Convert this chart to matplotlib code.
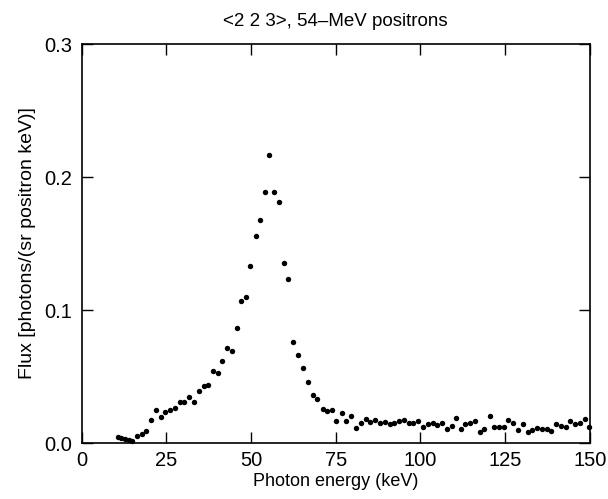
import matplotlib
matplotlib.use("Agg")
import matplotlib.pyplot as plt

plt.rcParams['font.family'] = ['Liberation Sans', 'DejaVu Sans']

energy = [10.7, 11.7, 12.8, 13.9, 14.9, 16.4, 17.7, 19.0, 20.5, 21.9,
          23.3, 24.7, 26.1, 27.4, 28.9, 30.3, 31.7, 33.1, 34.5, 36.0,
          37.4, 38.7, 40.1, 41.5, 42.9, 44.3, 45.7, 47.0, 48.4, 49.8,
          51.3, 52.7, 54.0, 55.4, 56.8, 58.2, 59.6, 61.0, 62.5, 63.9,
          65.4, 66.8, 68.2, 69.6, 71.1, 72.5, 73.9, 75.2, 76.7, 78.1,
          79.6, 80.9, 82.4, 83.8, 85.2, 86.7, 88.0, 89.4, 90.9, 92.3,
          93.7, 95.1, 96.5, 97.9, 99.3, 100.8, 102.2, 103.6, 105.0, 106.4,
          107.8, 109.2, 110.5, 112.0, 113.3, 114.7, 116.1, 117.5, 118.9, 120.4,
          121.8, 123.2, 124.6, 126.0, 127.4, 128.8, 130.3, 131.7, 133.0, 134.4,
          135.9, 137.3, 138.6, 140.1, 141.5, 142.9, 144.3, 145.7, 147.1, 148.5,
          149.9]
flux = [0.0045, 0.0038, 0.0033, 0.0026, 0.0013, 0.0055, 0.0065, 0.0090, 0.0170, 0.0248,
        0.0196, 0.0231, 0.0251, 0.0263, 0.0310, 0.0310, 0.0349, 0.0306, 0.0389, 0.0426,
        0.0439, 0.0540, 0.0530, 0.0620, 0.0717, 0.0695, 0.0862, 0.1070, 0.1100, 0.1330,
        0.1556, 0.1680, 0.1887, 0.2165, 0.1887, 0.1810, 0.1350, 0.1230, 0.0757, 0.0660,
        0.0567, 0.0462, 0.0361, 0.0331, 0.0253, 0.0243, 0.0248, 0.0163, 0.0228, 0.0163,
        0.0203, 0.0116, 0.0148, 0.0180, 0.0161, 0.0171, 0.0153, 0.0158, 0.0146, 0.0153,
        0.0165, 0.0176, 0.0150, 0.0153, 0.0165, 0.0123, 0.0146, 0.0148, 0.0138, 0.0150,
        0.0103, 0.0131, 0.0191, 0.0105, 0.0143, 0.0148, 0.0168, 0.0086, 0.0103, 0.0206,
        0.0118, 0.0118, 0.0118, 0.0171, 0.0148, 0.0100, 0.0146, 0.0086, 0.0098, 0.0113,
        0.0103, 0.0108, 0.0090, 0.0141, 0.0131, 0.0118, 0.0168, 0.0146, 0.0150, 0.0183,
        0.0120]

xticks = [0, 25, 50, 75, 100, 125, 150]
yticks = [0.0, 0.1, 0.2, 0.3]
ytick_labels = ['0.0', '0.1', '0.2', '0.3']

fig = plt.figure(figsize=(6.08, 4.99), dpi=100)
ax = fig.add_axes([0.1345, 0.1122, 0.8355, 0.7996])
ax.plot(energy, flux, 'o', color='black', markersize=3.9, markeredgewidth=0, clip_on=False)
ax.set_xlim(0, 150)
ax.set_ylim(0, 0.3)
ax.set_xticks(xticks)
ax.set_xticklabels([str(t) for t in xticks])
ax.set_yticks(yticks)
ax.set_yticklabels(ytick_labels)
ax.tick_params(direction='in', length=8, width=1, top=True, right=True,
               labelsize=14.5)
ax.tick_params(axis='x', pad=6)
ax.tick_params(axis='y', pad=7)
for s in ax.spines.values():
    s.set_linewidth(1.2)
ax.set_xlabel('Photon energy (keV)', fontsize=13, labelpad=2)
ax.set_ylabel('Flux [photons/(sr positron keV)]', fontsize=14, labelpad=6)
ax.set_title('<2 2 3>, 54\u2013MeV positrons', fontsize=13.5, pad=13)

fig.savefig('out.png', dpi=100)
